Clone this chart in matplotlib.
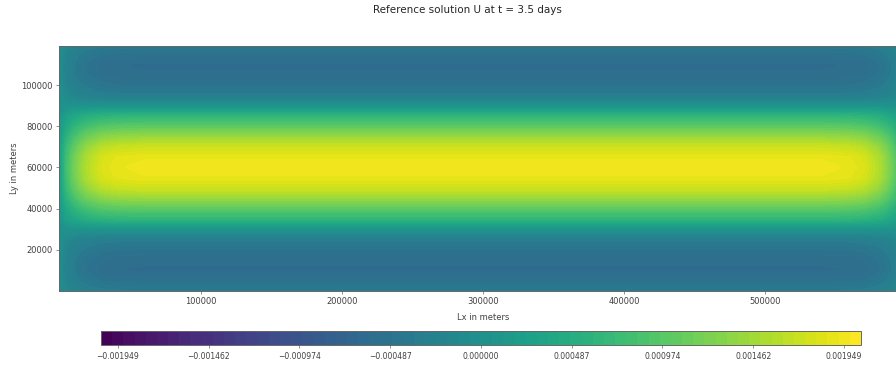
import numpy as np
import matplotlib
matplotlib.use("Agg")
import matplotlib.pyplot as plt
from matplotlib.ticker import FuncFormatter

# y positions (m) and the U profile across the channel, read at mid-domain
y_pos = [0, 5000, 10000, 15000, 20000, 25000, 30000, 35000, 40000, 45000,
         50000, 55000, 60000, 65000, 70000, 75000, 80000, 85000, 90000,
         95000, 100000, 105000, 110000, 115000, 120000]
u_profile = [-0.00035, -0.00052, -0.00061, -0.00059, -0.00049, -0.00033,
             0.00004, 0.00062, 0.00100, 0.00140, 0.00172, 0.00191, 0.001949,
             0.00191, 0.00172, 0.00140, 0.00100, 0.00062, 0.00004, -0.00033,
             -0.00049, -0.00059, -0.00061, -0.00052, -0.00035]

# x positions (m) and the relative amplitude of U along the channel
x_pos = [0, 5000, 10000, 15000, 20000, 30000, 40000, 50000, 60000, 300000,
         540000, 550000, 560000, 570000, 580000, 585000, 590000, 595000, 600000]
x_amp = [0.10, 0.40, 0.58, 0.71, 0.81, 0.93, 0.975, 0.99, 1.0, 1.0,
         1.0, 0.99, 0.975, 0.93, 0.81, 0.71, 0.58, 0.40, 0.10]

u_max = 0.001949
cbar_ticks = np.linspace(-u_max, u_max, 9)
levels = np.arange(-0.00204, 0.00204 + 1e-9, 0.00006)


def minus_fmt(v, pos=None):
    if abs(v) < 1e-12:
        v = 0.0
    return f"{v:.6f}".replace("-", "\u2212")


def main():
    X, Y = np.meshgrid(x_pos, y_pos)
    U = np.outer(u_profile, x_amp)

    fig = plt.figure(figsize=(8.96, 3.66), dpi=100)
    ax = fig.add_axes([0.0662, 0.2049, 0.9455, 0.6694])
    cax = fig.add_axes([0.1127, 0.0574, 0.8482, 0.0383])

    cs = ax.contourf(X, Y, U, levels=levels, cmap="viridis")
    ax.set_xlim(0, 600000)
    ax.set_ylim(0, 119000)
    ax.set_xticks([100000, 200000, 300000, 400000, 500000])
    ax.set_yticks([20000, 40000, 60000, 80000, 100000])
    ax.set_xlabel("Lx in meters", fontsize=6, color="0.25", labelpad=4.5)
    ax.set_ylabel("Ly in meters", fontsize=6, color="0.25", labelpad=2)
    ax.tick_params(labelsize=6, labelcolor="0.25", length=2.5, width=0.5, color="0.4", pad=2)
    for sp in ax.spines.values():
        sp.set_color("0.4")
        sp.set_linewidth(0.7)

    cbar = fig.colorbar(cs, cax=cax, orientation="horizontal", ticks=cbar_ticks,
                        format=FuncFormatter(minus_fmt))
    cbar.ax.tick_params(labelsize=5.5, labelcolor="0.25", length=2.5, width=0.5, color="0.4", pad=2.5)
    cbar.outline.set_edgecolor("0.4")
    cbar.outline.set_linewidth(0.7)

    fig.text(0.5218, 0.974, "Reference solution U at t = 3.5 days",
             ha="center", va="center", fontsize=7.5, color="0.15")

    fig.savefig("out.png", dpi=100)


if __name__ == "__main__":
    main()
